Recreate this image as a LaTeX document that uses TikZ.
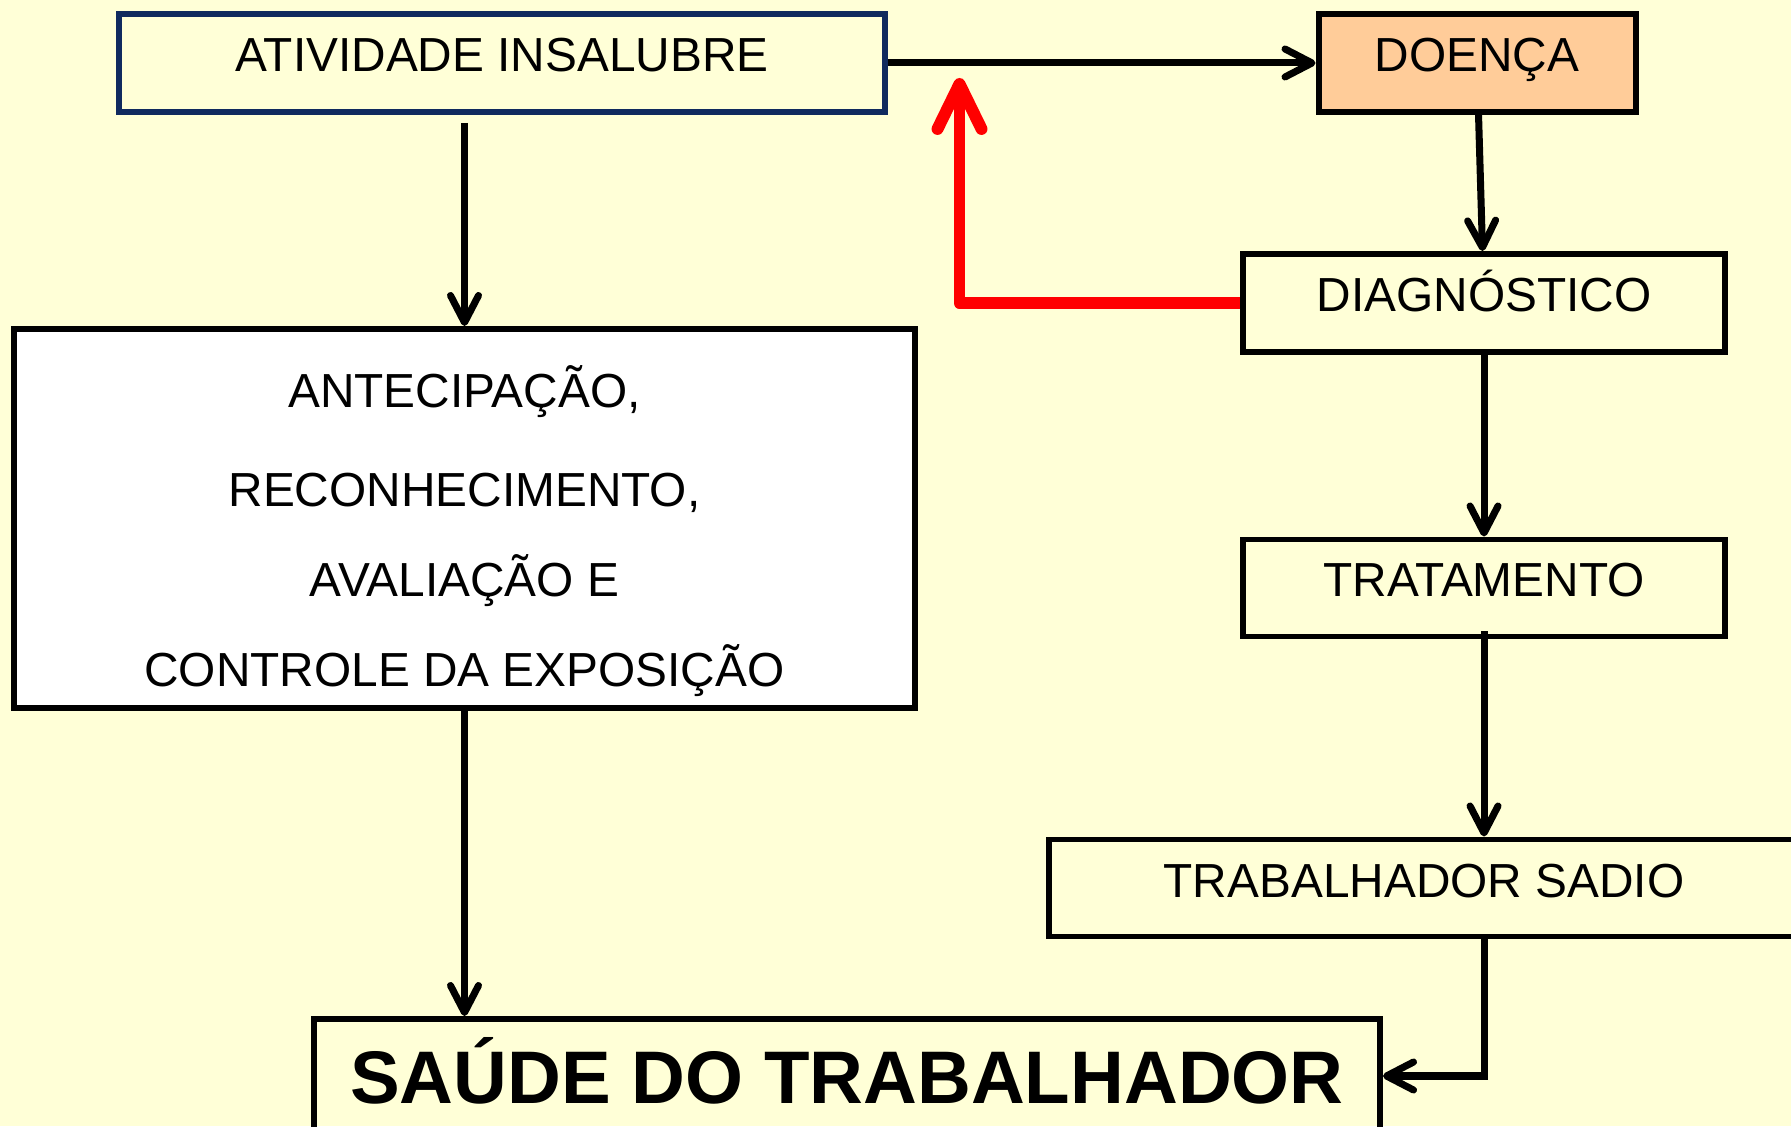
\documentclass[tikz,border=0pt]{standalone}
\usepackage{fontspec}
\setmainfont{Liberation Sans}
\usetikzlibrary{arrows.meta}
\definecolor{fundo}{RGB}{255,255,215}
\definecolor{azulesc}{RGB}{16,42,94}
\definecolor{laranja}{RGB}{255,204,153}
\tikzset{
  caixa/.style = {rectangle, draw=black, line width=1.7pt, inner sep=0pt,
    align=center, font=\fontsize{13.6}{16.3}\selectfont,
    text height=0.42cm, text depth=0.24cm},% caixa simples
  caixa_az/.style = {caixa, draw=azulesc, line width=1.6pt},% borda azul
  caixa_la/.style = {caixa, fill=laranja},% caixa laranja
  caixa_br/.style = {caixa, fill=white},% caixa branca
  caixa_g/.style = {caixa, font=\fontsize{21.2}{25}\selectfont\bfseries,
    text height=0.54cm, text depth=0cm},% caixa do titulo
  seta_v/.style = {red, line width=3.4pt, line join=round,
    -{Straight Barb[length=4.5mm, width=4.4mm, round]}}% seta vermelha
}

\begin{document}
\begin{tikzpicture}[->,>={Straight Barb[length=2.7mm, width=2.8mm, round]},
  line width=2pt]
\fill[fundo] (0,0) rectangle (17.91,11.26);
\useasboundingbox (0,0) rectangle (17.91,11.26);

\node[caixa_az, minimum width=7.66cm, minimum height=0.98cm] (ativ) at (5.02,10.63) {ATIVIDADE INSALUBRE};
\node[caixa_la, minimum width=3.17cm, minimum height=0.98cm] (doenca) at (14.77,10.63) {DOENÇA};
\node[caixa, minimum width=4.82cm, minimum height=0.98cm] (diag) at (14.84,8.23) {DIAGNÓSTICO};
\node[caixa, minimum width=4.82cm, minimum height=0.97cm] (trat) at (14.84,5.38) {TRATAMENTO};
\node[caixa, minimum width=7.50cm, minimum height=0.97cm] (sadio) at (14.24,2.38) {TRABALHADOR SADIO};
\node[caixa_br, minimum width=9.01cm, minimum height=3.79cm,
  label={[name=antec_txt, font=\fontsize{13.6}{16.3}\selectfont, align=center,
    yshift=-0.125cm]center:{ANTECIPAÇÃO,\\[0.42cm] RECONHECIMENTO,\\[0.32cm]
    AVALIAÇÃO E\\[0.33cm] CONTROLE DA EXPOSIÇÃO}}] (antec) at (4.645,6.075) {};
\node[caixa_g, minimum width=10.66cm, minimum height=1.14cm] (saude) at (8.47,0.50) {SAÚDE DO TRABALHADOR};
\coordinate (retorno) at (9.595,10.48);

\draw (ativ) -- (doenca);
\draw[shorten <=0.08cm] (antec.north |- ativ.south) -- (antec.north);
\draw (doenca) -- (diag);
\draw (diag) -- (trat);
\draw[shorten <=-0.08cm] (trat.south) -- (trat.south |- sadio.north);
\draw (antec.south) -- (antec.south |- saude.north);
\draw[shorten <=-0.05cm] (trat.south |- sadio.south) |- (saude.east);
\draw[seta_v] (diag.west) -| (retorno);
\end{tikzpicture}
\end{document}
